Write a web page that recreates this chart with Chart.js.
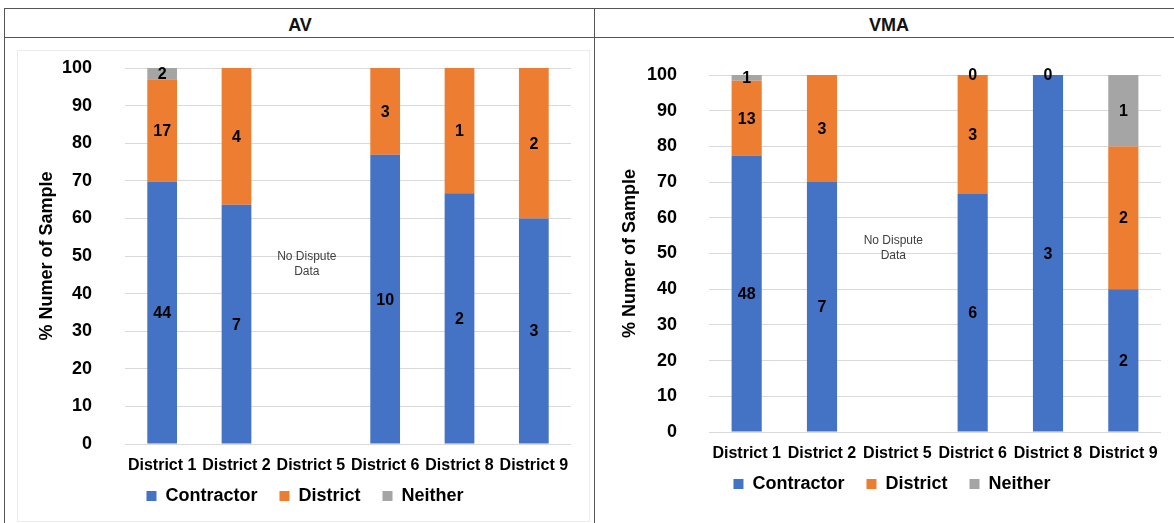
<!DOCTYPE html>
<html>
<head>
<meta charset="utf-8">
<script src="https://cdn.jsdelivr.net/npm/chart.js@4"></script>
<style>
  body { margin: 0; background: #fff; width: 1174px; height: 523px; overflow: hidden; position: relative; font-family: "Liberation Sans", Arial, sans-serif; }
  .line { position: absolute; background: #555; }
  .head { position: absolute; top: 15px; font-weight: bold; font-size: 18px; color: #111; transform: translateX(-50%); }
  .box { position: absolute; border: 1px solid #ececec; }
  canvas { position: absolute; }
</style>
</head>
<body>
<div class="line" style="left:4px;top:8px;width:1170px;height:1px"></div>
<div class="line" style="left:4px;top:37px;width:1170px;height:1px"></div>
<div class="line" style="left:4px;top:8px;width:1px;height:515px"></div>
<div class="line" style="left:594px;top:8px;width:1px;height:515px"></div>
<div class="head" style="left:300px">AV</div>
<div class="head" style="left:889px">VMA</div>
<div class="box" style="left:17px;top:50px;width:571px;height:470px"></div>

<canvas id="avChart" width="589" height="485" style="left:5px;top:38px"></canvas>
<canvas id="vmaChart" width="578" height="485" style="left:596px;top:38px"></canvas>

<script>
// data
var districts = ['District 1', 'District 2', 'District 5', 'District 6', 'District 8', 'District 9'];
var seriesNames = ['Contractor', 'District', 'Neither'];
var seriesColors = ['#4472C4', '#ED7D31', '#A5A5A5'];
var yTicks = [0, 10, 20, 30, 40, 50, 60, 70, 80, 90, 100];

// counts per district (null = no bar segment)
var avContractor = [44, 7, null, 10, 2, 3];
var avDistrict = [17, 4, null, 3, 1, 2];
var avNeither = [2, null, null, null, null, null];

var vmaContractor = [48, 7, null, 6, 3, 2];
var vmaDistrict = [13, 3, null, 3, 0, 2];
var vmaNeither = [1, null, null, 0, null, 1];

var noDataIndex = 2;
var noDataText = ['No Dispute', 'Data'];

var FONT = "'Liberation Sans', Arial, sans-serif";

function toPercent(lists) {
  var out = lists.map(function () { return []; });
  for (var i = 0; i < districts.length; i++) {
    var total = 0;
    lists.forEach(function (l) { total += (l[i] || 0); });
    lists.forEach(function (l, k) {
      out[k].push(l[i] === null || total === 0 ? null : l[i] / total * 100);
    });
  }
  return out;
}

// draws the counts inside the segments and the "No Dispute Data" note
var labelPlugin = {
  id: 'segLabels',
  afterLayout: function (chart) {
    // pull the legend up a bit closer to the axis labels
    var d = chart.options.plugins.segLabels.legendShift;
    chart.legend.top += d;
    chart.legend.bottom += d;
  },
  afterDatasetsDraw: function (chart) {
    var ctx = chart.ctx;
    var counts = chart.options.plugins.segLabels.counts;
    ctx.save();
    ctx.font = 'bold 16px ' + FONT;
    ctx.fillStyle = '#000';
    ctx.textAlign = 'center';
    ctx.textBaseline = 'middle';
    chart.data.datasets.forEach(function (ds, di) {
      var meta = chart.getDatasetMeta(di);
      meta.data.forEach(function (bar, i) {
        if (counts[di][i] === null) return;
        ctx.fillText(String(counts[di][i]), bar.x, (bar.y + bar.base) / 2 + 1);
      });
    });
    var note = chart.options.plugins.segLabels;
    var x = chart.scales.x.getPixelForValue(noDataIndex) - 4;
    var y = chart.scales.y.getPixelForValue(note.noteValue);
    ctx.font = '12px ' + FONT;
    ctx.fillStyle = '#404040';
    ctx.fillText(noDataText[0], x, y - 7);
    ctx.fillText(noDataText[1], x, y + 8);
    ctx.restore();
  }
};

function makeChart(id, lists, cfg) {
  var pct = toPercent(lists);
  var datasets = seriesNames.map(function (name, k) {
    return {
      label: name,
      data: pct[k],
      backgroundColor: seriesColors[k],
      borderWidth: 0,
      categoryPercentage: 1,
      barPercentage: 0.4
    };
  });
  return new Chart(document.getElementById(id), {
    type: 'bar',
    data: { labels: districts, datasets: datasets },
    options: {
      responsive: false,
      animation: false,
      layout: { padding: { left: cfg.padLeft, right: 0, top: cfg.padTop, bottom: cfg.padBottom } },
      plugins: {
        tooltip: { enabled: false },
        segLabels: { counts: lists, noteValue: cfg.noteValue, legendShift: -8 },
        legend: {
          position: 'bottom',
          labels: {
            boxWidth: 10, boxHeight: 10, padding: 22, color: '#000',
            font: { family: FONT, size: 18, weight: 'bold' }
          }
        }
      },
      scales: {
        x: {
          stacked: true,
          grid: { display: false },
          border: { display: false },
          ticks: { color: '#000', padding: 4, autoSkip: false, maxRotation: 0, font: { family: FONT, size: 16, weight: 'bold' } },
          afterFit: function (s) { s.height = 29; }
        },
        y: {
          stacked: true,
          min: 0, max: 100,
          afterBuildTicks: function (s) { s.ticks = yTicks.map(function (v) { return { value: v }; }); },
          grid: { color: '#D9D9D9', drawTicks: false },
          border: { display: false },
          ticks: { color: '#000', padding: cfg.tickPad, font: { family: FONT, size: 18, weight: 'bold' } },
          title: {
            display: true, text: '% Numer of Sample', color: '#000',
            padding: { top: cfg.titlePad, bottom: 0 },
            font: { family: FONT, size: 18, weight: 'bold' }
          },
          afterFit: function (s) { s.width = cfg.yWidth; s.paddingTop = 0; s.paddingBottom = 0; }
        },
        yR: {
          position: 'right',
          grid: { display: false },
          border: { display: false },
          ticks: { display: false },
          afterFit: function (s) { s.width = cfg.rightGap; s.paddingTop = 0; s.paddingBottom = 0; }
        }
      }
    },
    plugins: [labelPlugin]
  });
}

makeChart('avChart', [avContractor, avDistrict, avNeither], {
  padLeft: 11, padTop: 30, padBottom: 0, yWidth: 109, rightGap: 23,
  tickPad: 33, titlePad: 20, noteValue: 48
});
makeChart('vmaChart', [vmaContractor, vmaDistrict, vmaNeither], {
  padLeft: 14, padTop: 37, padBottom: 12, yWidth: 99, rightGap: 13,
  tickPad: 32, titlePad: 9, noteValue: 51.5
});
</script>
</body>
</html>
